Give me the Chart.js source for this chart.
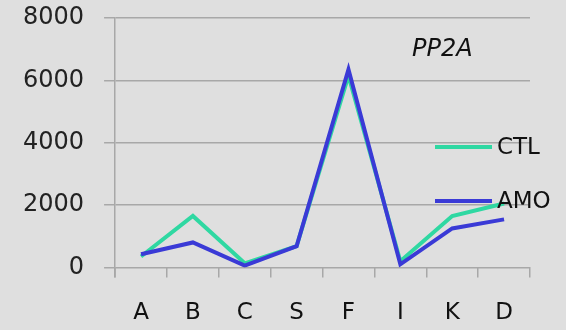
<!DOCTYPE html>
<html>
<head>
<meta charset="utf-8">
<script src="https://cdn.jsdelivr.net/npm/chart.js@4/dist/chart.umd.min.js"></script>
<style>
  html, body { margin: 0; padding: 0; background: #dfdfdf; overflow: hidden; }
  canvas { display: block; }
</style>
</head>
<body>
<canvas id="c" width="566" height="330"></canvas>
<script>
// data
const categories = ['A', 'B', 'C', 'S', 'F', 'I', 'K', 'D'];
const ctlValues = [350, 1650, 130, 680, 6150, 200, 1650, 2050];
const amoValues = [420, 800, 60, 680, 6350, 100, 1250, 1540];
const yTicks = [0, 2000, 4000, 6000, 8000];

const ctlColor = '#2fd8a2';
const amoColor = '#3a3ad6';
const gridColor = '#a8a8a8';
const font = 'DejaVu Sans';

// legend + title drawn inside the plot, like the original
const insideLegend = {
  id: 'insideLegend',
  afterDraw(chart) {
    const ctx = chart.ctx;
    const area = chart.chartArea;
    ctx.save();

    // y axis line runs a little past zero, down with the x ticks
    ctx.strokeStyle = gridColor;
    ctx.lineWidth = 1.5;
    ctx.beginPath();
    ctx.moveTo(area.left, area.bottom);
    ctx.lineTo(area.left, area.bottom + 10);
    ctx.stroke();

    ctx.fillStyle = '#111';
    ctx.font = 'italic 24px "' + font + '"';
    ctx.textAlign = 'left';
    ctx.textBaseline = 'middle';
    ctx.fillText('PP2A', area.right - 118, area.top + 32);

    const items = chart.data.datasets.map(d => ({ label: d.label, color: d.borderColor }));
    items.forEach((it, i) => {
      const y = area.top + 129 + i * 54;
      const x0 = area.right - 95;
      ctx.strokeStyle = it.color;
      ctx.lineWidth = 4;
      ctx.beginPath();
      ctx.moveTo(x0, y);
      ctx.lineTo(x0 + 57, y);
      ctx.stroke();
      ctx.fillStyle = '#111';
      ctx.font = '23px "' + font + '"';
      ctx.fillText(it.label, x0 + 62, y + 1);
    });
    ctx.restore();
  }
};

new Chart(document.getElementById('c'), {
  type: 'line',
  data: {
    labels: categories,
    datasets: [
      { label: 'CTL', data: ctlValues, borderColor: ctlColor, order: 2 },
      { label: 'AMO', data: amoValues, borderColor: amoColor, order: 1 }
    ]
  },
  options: {
    responsive: false,
    animation: false,
    layout: { padding: { left: 3, right: 36, top: 0, bottom: -19 } },
    plugins: {
      legend: { display: false },
      tooltip: { enabled: false }
    },
    elements: {
      point: { radius: 0 },
      line: { tension: 0, borderWidth: 4 }
    },
    scales: {
      x: {
        offset: true,
        grid: { offset: true, drawOnChartArea: false, drawTicks: true, tickLength: 10, color: gridColor, lineWidth: 1.5 },
        border: { display: false },
        ticks: { color: '#111', font: { family: font, size: 23 }, padding: 22 }
      },
      y: {
        min: 0,
        max: 8000,
        afterBuildTicks(axis) { axis.ticks = yTicks.map(v => ({ value: v })); },
        // the tick padding is horizontal only here, so drop the extra vertical room
        afterFit(axis) { axis.paddingTop = 18; axis.paddingBottom = 0; },
        grid: { color: gridColor, lineWidth: 1.5, tickLength: 11 },
        border: { color: gridColor, width: 1.5 },
        ticks: { color: '#222', font: { family: font, size: 24 }, padding: 20, callback: v => String(v) }
      }
    }
  },
  plugins: [insideLegend]
});
</script>
</body>
</html>
